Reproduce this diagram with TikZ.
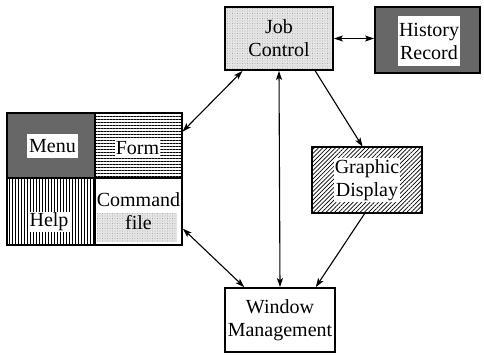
\documentclass[tikz,border=0pt]{standalone}
\usepackage{fontspec}
\setmainfont{Liberation Serif}
\usetikzlibrary{arrows.meta,patterns.meta,calc}
\newcommand\boxfont{\fontsize{20}{23}\selectfont}
\tikzset{
  box/.style={draw, line width=1.8pt, inner sep=0pt, align=center, font=\boxfont},
  lbl/.style={fill=white, inner sep=1pt, align=center, font=\boxfont},
  lightstip/.style={preaction={fill=black!10}, pattern={Dots[distance=2.5pt,radius=0.45pt]}, pattern color=black!45},
  darkstip/.style={preaction={fill=black!62}, pattern={Dots[distance=2pt,radius=0.45pt]}, pattern color=white!70!black},
  hlines/.style={pattern={Lines[angle=0,distance=3pt,line width=0.9pt]}},
  vlines/.style={pattern={Lines[angle=90,distance=3pt,line width=0.9pt]}},
  hatch/.style={pattern={Lines[angle=45,distance=3pt,line width=0.7pt]}},
  tip/.tip={Stealth[length=9pt,width=6pt,inset=2pt]},
  sgl/.style={line width=1.1pt, -tip},
  dbl/.style={line width=1.1pt, tip-tip},
}
\begin{document}
\begin{tikzpicture}[x=1pt, y=-1pt]
  \useasboundingbox (0,0) rectangle (484,356);

  % top row
  \node[box, lightstip, minimum width=108pt, minimum height=63pt] (jc) at (279,38.5) {Job\\Control};
  \node[box, darkstip, minimum width=105pt, minimum height=66pt] (hr) at (427.5,40) {};
  \node[lbl, minimum width=62pt, minimum height=50pt] (hrlbl) at (429,41) {History\\Record};

  % user interface grid
  \node[box, darkstip, minimum width=88pt, minimum height=65pt] (menu) at (51,145.5) {};
  \node[box, hlines, minimum width=87pt, minimum height=65pt] (form) at (138.5,145.5) {};
  \node[box, vlines, minimum width=88pt, minimum height=67pt] (help) at (51,211.5) {};
  \node[box, fill=white, minimum width=87pt, minimum height=67pt] (cmd) at (138.5,211.5) {};
  \fill[lightstip] (97,213) rectangle (177,242);
  \node[lbl, minimum width=51pt, minimum height=24pt] (menulbl) at (52.5,146) {Menu};
  \node[lbl, minimum width=44pt, minimum height=17pt] (formlbl) at (137.5,148) {Form};
  \node[lbl, minimum width=42pt, minimum height=20pt] (helplbl) at (49,222) {Help};
  \node[align=center, font=\boxfont, inner sep=0pt] (cmdlbl) at (138.5,211.5) {Command\\file};

  % graphic display
  \node[box, hatch, minimum width=110pt, minimum height=66pt] (gd) at (367,180) {};
  \node[lbl] (gdlbl) at (gd.center) {Graphic\\Display};

  % window management
  \node[box, fill=white, minimum width=110pt, minimum height=64pt] (wm) at (280,320) {Window\\Management};

  % connectors
  \draw[dbl] (jc.east) -- (jc.east -| hr.west);
  \draw[dbl] ($(jc.south west)!0.167!(jc.south east)$) -- ($(form.north east)!0.29!(form.south east)$);
  \draw[dbl] (jc.south) -- (wm.north);
  \draw[sgl] ($(jc.south west)!0.83!(jc.south east)$) -- ($(gd.north west)!0.46!(gd.north east)$);
  \draw[sgl] ($(gd.south west)!0.48!(gd.south east)$) -- ($(wm.north west)!0.82!(wm.north east)$);
  \draw[dbl] ($(cmd.north east)!0.75!(cmd.south east)$) -- ($(wm.north west)!0.18!(wm.north east)$);
\end{tikzpicture}
\end{document}
